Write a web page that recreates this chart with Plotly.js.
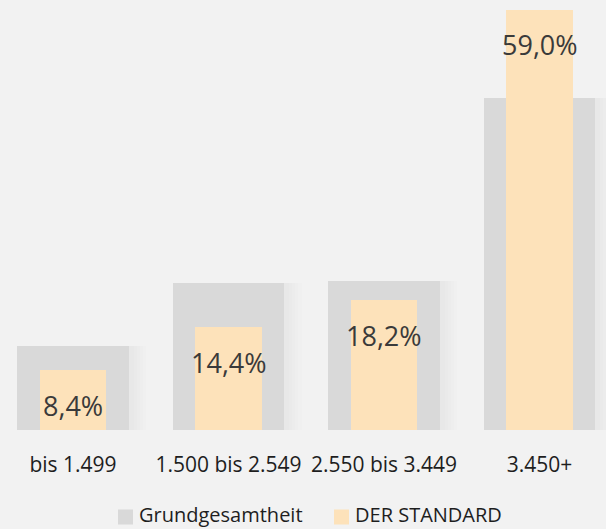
<!DOCTYPE html>
<html>
<head>
<meta charset="utf-8">
<script src="https://cdn.plot.ly/plotly-3.0.1.min.js"></script>
<style>
html,body{margin:0;padding:0;background:#f2f2f2;}
#chart{width:606px;height:529px;}
</style>
</head>
<body>
<div id="chart"></div>
<script>
const categories = ["bis 1.499", "1.500 bis 2.549", "2.550 bis 3.449", "3.450+"];
const grundgesamtheit = [11.8, 20.6, 20.9, 46.6];
const derStandard = [8.4, 14.4, 18.2, 59.0];
const seriesNames = ["Grundgesamtheit", "DER STANDARD"];
const seriesColors = ["#d9d9d9", "#fde2ba"];
const labelText = ["8,4%", "14,4%", "18,2%", "59,0%"];

const xIdx = categories.map((c, i) => i);
const FONT = "Open Sans, Noto Sans, sans-serif";

// soft drop shadow layers behind the grey bars (same data)
const shadows = [0.03, 0.05, 0.07, 0.09, 0.11].map(extra => ({
  type: "bar", x: xIdx, y: grundgesamtheit, width: 0.72 + extra, offset: -0.36,
  marker: {color: "rgba(0,0,0,0.009)", line: {width: 0}},
  showlegend: false, hoverinfo: "skip"
}));
const tGrund = {
  type: "bar", name: seriesNames[0], x: xIdx, y: grundgesamtheit, width: 0.72,
  marker: {color: seriesColors[0], line: {width: 0}}, hoverinfo: "skip", showlegend: false
};
const tStd = {
  type: "bar", name: seriesNames[1], x: xIdx, y: derStandard, width: 0.43,
  marker: {color: seriesColors[1], line: {width: 0}}, hoverinfo: "skip", showlegend: false
};

const annotations = xIdx.map((x, i) => ({
  x: x, y: derStandard[i], xref: "x", yref: "y",
  text: labelText[i], showarrow: false, yanchor: "middle", xanchor: "center",
  yshift: -35, font: {family: FONT, size: 27, color: "#3a3a3a"}
}));

// legend (swatch + label), placed in pixel space below the plot
const W = 606, H = 529, PH = 430;
const legendX = [118, 334];
const swatchYc = 517, textYc = 514;
const shapes = [];
seriesNames.forEach((name, i) => {
  shapes.push({
    type: "rect", xref: "paper", yref: "paper",
    x0: legendX[i] / W, x1: (legendX[i] + 15) / W,
    y0: -(swatchYc + 7.5 - PH) / PH, y1: -(swatchYc - 7.5 - PH) / PH,
    fillcolor: seriesColors[i], line: {width: 0}
  });
  annotations.push({
    xref: "paper", yref: "paper", x: (legendX[i] + 20) / W, y: -(textYc - PH) / PH,
    xanchor: "left", yanchor: "middle", text: name, showarrow: false, borderpad: 0,
    font: {family: FONT, size: 20, color: "#1e1e1e"}
  });
});

const layout = {
  width: W, height: H,
  margin: {l: 0, r: 0, t: 0, b: 99, pad: 0},
  paper_bgcolor: "#f2f2f2", plot_bgcolor: "#f2f2f2",
  barmode: "overlay", bargap: 0,
  showlegend: false,
  xaxis: {
    type: "linear", range: [-0.4695, 3.4276], tickmode: "array",
    tickvals: xIdx, ticktext: categories, showgrid: false, zeroline: false,
    showline: false, ticks: "", ticklabelstandoff: 20,
    tickfont: {family: FONT, size: 21, color: "#1e1e1e"}, fixedrange: true
  },
  yaxis: {
    range: [0, 60.4], showgrid: false, zeroline: false, showline: false,
    showticklabels: false, ticks: "", fixedrange: true
  },
  shapes: shapes,
  annotations: annotations
};

Plotly.newPlot("chart", shadows.concat([tGrund, tStd]), layout, {staticPlot: true, displayModeBar: false});
</script>
</body>
</html>
